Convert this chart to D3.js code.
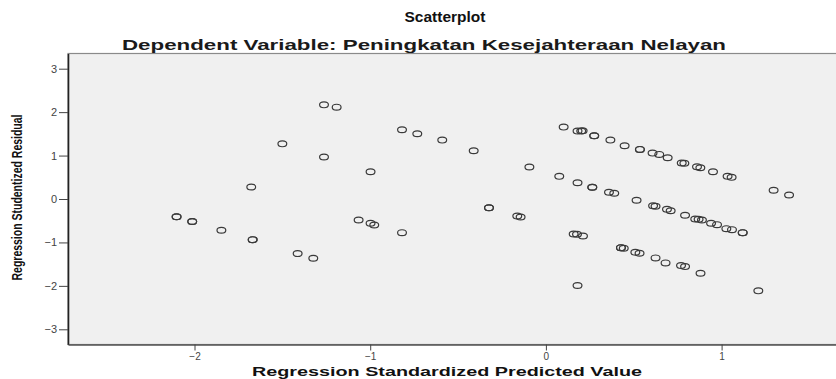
<!DOCTYPE html>
<html>
<head>
<meta charset="utf-8">
<script src="https://cdn.jsdelivr.net/npm/d3@7"></script>
<style>
  body { margin: 0; background: #fff; }
  svg { display: block; font-family: "Liberation Sans", Arial, sans-serif; }
</style>
</head>
<body>
<div id="chart"></div>
<script>
// Regression Standardized Predicted Value (x) / Regression Studentized Residual (y)
const predicted = [
  -2.102, -2.102, -2.013, -2.013, -1.847, -1.669, -1.669, -1.677, -1.500, -1.413, -1.324,
  -1.263, -1.191, -1.263, -1.066, -0.998, -0.998, -0.977, -0.819, -0.819, -0.732, -0.590,
  -0.411, -0.324, -0.324, -0.163, -0.144, -0.094,
  0.101, 0.180, 0.201, 0.209, 0.275, 0.275, 0.367, 0.448, 0.535, 0.535, 0.607, 0.645, 0.693,
  0.773, 0.788, 0.860, 0.879, 0.951, 1.034, 1.057, 1.296, 1.384,
  0.076, 0.180, 0.264, 0.264, 0.359, 0.389, 0.516, 0.610, 0.624, 0.689, 0.710, 0.792,
  0.850, 0.869, 0.888, 0.940, 0.974, 1.027, 1.059, 1.120, 1.120,
  0.158, 0.177, 0.211, 0.427, 0.427, 0.443, 0.509, 0.533, 0.624, 0.681, 0.769, 0.792, 0.880,
  0.180, 1.209
];
const residual = [
  -0.407, -0.407, -0.517, -0.517, -0.720, -0.936, -0.936, 0.276, 1.270, -1.257, -1.363,
  2.168, 2.115, 0.966, -0.483, 0.628, -0.559, -0.598, 1.593, -0.775, 1.501, 1.356,
  1.110, -0.200, -0.200, -0.391, -0.414, 0.736,
  1.655, 1.563, 1.563, 1.570, 1.455, 1.455, 1.356, 1.225, 1.142, 1.142, 1.057, 1.027, 0.949,
  0.828, 0.821, 0.743, 0.720, 0.628, 0.522, 0.499, 0.200, 0.092,
  0.522, 0.375, 0.269, 0.269, 0.154, 0.131, -0.030, -0.154, -0.168, -0.237, -0.269, -0.375,
  -0.460, -0.467, -0.483, -0.559, -0.591, -0.683, -0.706, -0.775, -0.775,
  -0.805, -0.811, -0.851, -1.120, -1.120, -1.133, -1.225, -1.248, -1.356, -1.471, -1.533, -1.556, -1.708,
  -1.993, -2.115
];
const xTicks = [-2, -1, 0, 1];
const yTicks = [-3, -2, -1, 0, 1, 2, 3];

const width = 836, height = 379;
const margin = { top: 53.5, left: 68, bottom: 34.5 };

const svg = d3.select("#chart").append("svg")
  .attr("width", width)
  .attr("height", height);

const x = d3.scaleLinear().domain([-2.72, 1.68]).range([margin.left, margin.left + 4.4 * 175.7]);
const y = d3.scaleLinear().domain([-3.35, 3.35]).range([height - margin.bottom, margin.top]);

// plot background
svg.append("rect")
  .attr("x", x.range()[0])
  .attr("y", y.range()[1])
  .attr("width", x.range()[1] - x.range()[0])
  .attr("height", y.range()[0] - y.range()[1])
  .attr("fill", "#f0f0f0")
  .attr("stroke", "#8a8a8a")
  .attr("stroke-width", 1.2);

svg.append("clipPath").attr("id", "clip")
  .append("rect")
  .attr("x", x.range()[0]).attr("y", y.range()[1])
  .attr("width", x.range()[1] - x.range()[0])
  .attr("height", y.range()[0] - y.range()[1]);

// axes
const yAxis = svg.append("g")
  .attr("transform", `translate(${margin.left},0)`)
  .call(d3.axisLeft(y).tickValues(yTicks).tickSizeInner(9).tickSizeOuter(0).tickPadding(2).tickFormat(d3.format("d")));
yAxis.select(".domain").attr("stroke", "#222").attr("stroke-width", 1.6);
yAxis.selectAll(".tick line").attr("stroke", "#444");
yAxis.selectAll(".tick text").attr("fill", "#444").style("font-size", "11px");

const xAxis = svg.append("g")
  .attr("transform", `translate(0,${y.range()[0]})`)
  .call(d3.axisBottom(x).tickValues(xTicks).tickSizeInner(6).tickSizeOuter(0).tickPadding(2).tickFormat(d3.format("d")));
xAxis.select(".domain").attr("stroke", "#555").attr("stroke-width", 1.4);
xAxis.selectAll(".tick line").attr("stroke", "#444");
xAxis.selectAll(".tick text").attr("fill", "#444").style("font-size", "10px");

// points
svg.append("g").attr("clip-path", "url(#clip)")
  .selectAll("ellipse")
  .data(predicted.map((p, i) => [p, residual[i]]))
  .enter()
  .append("ellipse")
  .attr("cx", d => x(d[0]))
  .attr("cy", d => y(d[1]))
  .attr("rx", 4.4)
  .attr("ry", 2.9)
  .attr("fill", "none")
  .attr("stroke", "#3a3a3a")
  .attr("stroke-width", 1.2);

// titles
svg.append("text")
  .attr("x", 445).attr("y", 22)
  .attr("text-anchor", "middle")
  .style("font-size", "15.5px").style("font-weight", "bold")
  .attr("fill", "#111")
  .text("Scatterplot");

svg.append("text")
  .attr("x", 424).attr("y", 50)
  .attr("text-anchor", "middle")
  .attr("textLength", 604).attr("lengthAdjust", "spacingAndGlyphs")
  .style("font-size", "15px").style("font-weight", "bold")
  .attr("fill", "#1a1a1a")
  .text("Dependent Variable: Peningkatan Kesejahteraan Nelayan");

svg.append("text")
  .attr("x", 447).attr("y", 376)
  .attr("text-anchor", "middle")
  .attr("textLength", 390).attr("lengthAdjust", "spacingAndGlyphs")
  .style("font-size", "13px").style("font-weight", "bold")
  .attr("fill", "#111")
  .text("Regression Standardized Predicted Value");

svg.append("text")
  .attr("transform", "translate(22,197.5) rotate(-90)")
  .attr("text-anchor", "middle")
  .attr("textLength", 166).attr("lengthAdjust", "spacingAndGlyphs")
  .style("font-family", "'Liberation Sans Narrow', 'Liberation Sans', sans-serif")
  .style("font-size", "15px").style("font-weight", "bold")
  .attr("fill", "#111")
  .text("Regression Studentized Residual");
</script>
</body>
</html>
